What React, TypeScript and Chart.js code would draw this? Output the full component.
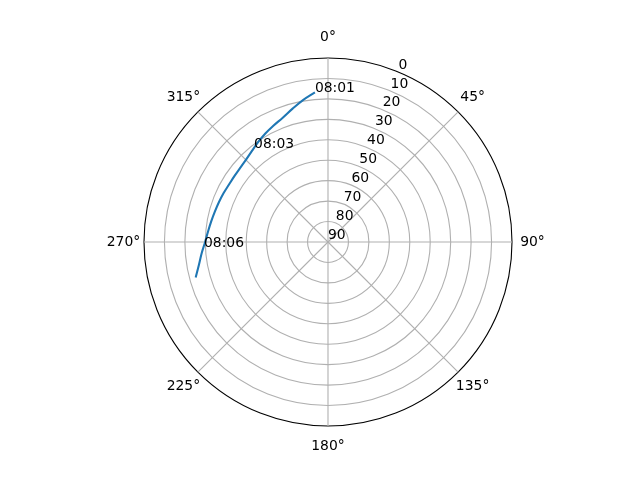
import React, { useEffect, useRef } from 'react';
import { Chart, registerables } from 'chart.js';

Chart.register(...registerables);

// Angular categories: one every 5 degrees (azimuth, clockwise from north)
const angleCategories: string[] = Array.from({ length: 72 }, (_, i) => `${i * 5}°`);

// Azimuth tick labels shown around the circle
const thetaTickAngles: number[] = [0, 45, 90, 135, 180, 225, 270, 315];
const thetaTickLabels: string[] = ['0°', '45°', '90°', '135°', '180°', '225°', '270°', '315°'];

// Radial (elevation) ticks: 0 at the rim, 90 at the centre
const radialTicks: number[] = [0, 10, 20, 30, 40, 50, 60, 70, 80, 90];
const radialLabelAngle = 22.5;

// Satellite track
const trackAzimuth: number[] = [255, 260, 265, 270, 275, 280, 285, 290, 295, 300, 305, 310, 315, 320, 325, 330, 335, 340, 345, 350, 355];
const trackElevation: number[] = [23.0, 25.9, 28.0, 29.9, 31.1, 32.0, 32.7, 33.2, 33.6, 34.0, 34.0, 33.8, 33.2, 32.0, 30.4, 28.7, 27.1, 25.3, 22.6, 19.5, 16.5];

// Time annotations along the track
const timeLabels: string[] = ['08:01', '08:03', '08:06'];
const timeAzimuth: number[] = [355, 321.8, 267.7];
const timeElevation: number[] = [16.5, 31.5, 29.3];

const FONT = '13.9px "DejaVu Sans"';

const polarTextPlugin = {
  id: 'polarText',
  afterDatasetsDraw(chart: any) {
    const scale = chart.scales.r;
    const ctx = chart.ctx as CanvasRenderingContext2D;
    const n = chart.data.labels.length;
    const step = 360 / n;
    ctx.save();
    ctx.font = FONT;
    ctx.fillStyle = '#000000';

    ctx.textAlign = 'center';
    ctx.textBaseline = 'middle';
    thetaTickAngles.forEach((deg, k) => {
      const p = scale.getPointPosition(deg / step, scale.drawingArea + 20.5);
      ctx.fillText(thetaTickLabels[k], p.x, p.y);
    });

    ctx.textAlign = 'left';
    ctx.textBaseline = 'bottom';
    radialTicks.forEach((v) => {
      const p = scale.getPointPosition(radialLabelAngle / step, scale.getDistanceFromCenterForValue(v));
      ctx.fillText(String(v), p.x, p.y);
    });

    ctx.textBaseline = 'alphabetic';
    timeLabels.forEach((t, k) => {
      const p = scale.getPointPosition(timeAzimuth[k] / step, scale.getDistanceFromCenterForValue(timeElevation[k]));
      ctx.fillText(t, p.x, p.y);
    });
    ctx.restore();
  },
};

export default function App() {
  const canvasRef = useRef<HTMLCanvasElement | null>(null);

  useEffect(() => {
    if (!canvasRef.current) return;
    const step = 360 / angleCategories.length;
    const data: (number | null)[] = angleCategories.map(() => null);
    trackAzimuth.forEach((az, k) => {
      data[Math.round(az / step)] = trackElevation[k];
    });

    const chart = new Chart(canvasRef.current, {
      type: 'radar',
      data: {
        labels: angleCategories,
        datasets: [
          {
            data,
            borderColor: '#1f77b4',
            borderWidth: 2.08,
            fill: false,
            spanGaps: false,
            pointRadius: 0,
            pointHoverRadius: 0,
            tension: 0.4,
            borderCapStyle: 'butt',
            borderJoinStyle: 'round',
          },
        ],
      },
      options: {
        responsive: false,
        animation: false,
        events: [],
        layout: { padding: { top: 58, bottom: 54, left: 128, right: 112 } },
        plugins: { legend: { display: false }, tooltip: { enabled: false } },
        scales: {
          r: {
            min: 0,
            max: 90,
            reverse: true,
            startAngle: 0,
            ticks: { display: false, stepSize: 10 },
            pointLabels: { display: false },
            grid: {
              circular: true,
              color: (c: any) => (c.tick && c.tick.value === 0 ? '#000000' : '#b0b0b0'),
              lineWidth: 1.1,
            },
            angleLines: {
              display: true,
              color: '#b0b0b0',
              lineWidth: (c: any) => (c.index % 9 === 0 ? 1.1 : 0),
            },
          },
        },
      },
      plugins: [polarTextPlugin],
    } as any);
    return () => chart.destroy();
  }, []);

  return (
    <div style={{ position: 'absolute', left: 0, top: 0, width: 640, height: 480, background: '#ffffff' }}>
      <canvas ref={canvasRef} width={640} height={480} style={{ display: 'block' }} />
    </div>
  );
}
